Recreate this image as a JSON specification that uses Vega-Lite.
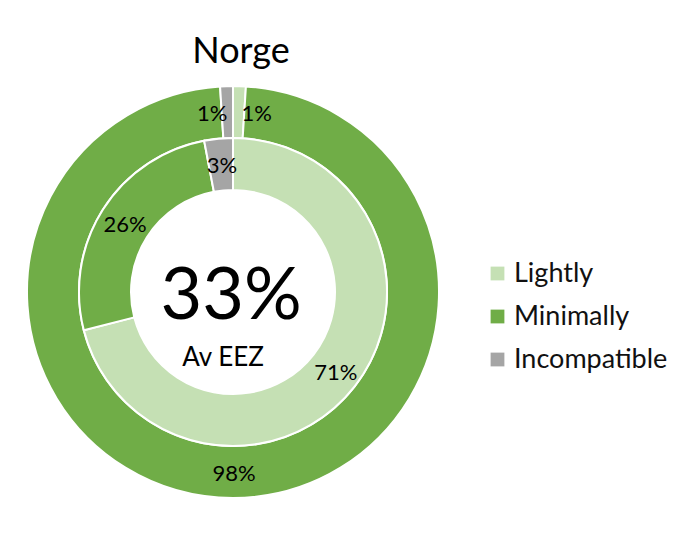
{"$schema":"https://vega.github.io/schema/vega-lite/v6.json","width":466,"height":546,"autosize":"none","padding":{"top":19,"left":0,"right":211,"bottom":0},"background":"white","config":{"view":{"stroke":null},"font":"Lato"},"title":{"text":"Norge","font":"Lato","fontSize":36,"fontWeight":"normal","color":"#000","anchor":"middle","dx":8,"offset":-52},"datasets":{"shares":[{"ring":"outer","cat":"Lightly","order":1,"value":1,"label":"1%"},{"ring":"outer","cat":"Minimally","order":2,"value":98,"label":"98%"},{"ring":"outer","cat":"Incompatible","order":3,"value":1,"label":"1%"},{"ring":"inner","cat":"Lightly","order":1,"value":71,"label":"71%"},{"ring":"inner","cat":"Minimally","order":2,"value":26,"label":"26%"},{"ring":"inner","cat":"Incompatible","order":3,"value":3,"label":"3%"}]},"layer":[{"data":{"name":"shares"},"transform":[{"filter":"datum.ring=='outer'"}],"mark":{"type":"arc","innerRadius":154,"outerRadius":206,"stroke":"white","strokeWidth":2},"encoding":{"theta":{"field":"value","type":"quantitative","stack":true,"scale":{"domain":[0,100]}},"order":{"field":"order","type":"quantitative"},"color":{"field":"cat","type":"nominal","scale":{"domain":["Lightly","Minimally","Incompatible"],"range":["#C5E0B4","#70AD47","#A5A5A5"]},"legend":{"title":null,"orient":"none","legendX":484,"legendY":241,"labelFont":"Lato","labelFontSize":27,"labelColor":"#111","symbolType":"square","symbolSize":190,"symbolStrokeWidth":0,"rowPadding":15,"labelOffset":3}}}},{"data":{"name":"shares"},"transform":[{"filter":"datum.ring=='inner'"}],"mark":{"type":"arc","innerRadius":102,"outerRadius":154,"stroke":"white","strokeWidth":2},"encoding":{"theta":{"field":"value","type":"quantitative","stack":true,"scale":{"domain":[0,100]}},"order":{"field":"order","type":"quantitative"},"color":{"field":"cat","type":"nominal"}}},{"data":{"name":"shares"},"transform":[{"filter":"datum.ring=='inner'"}],"mark":{"type":"text","radius":129,"fontSize":22,"color":"#000","dy":2,"dx":1},"encoding":{"theta":{"field":"value","type":"quantitative","stack":true,"scale":{"domain":[0,100]}},"order":{"field":"order","type":"quantitative"},"text":{"field":"label"}}},{"data":{"name":"shares"},"transform":[{"filter":"datum.ring=='outer'"}],"mark":{"type":"text","radius":181,"fontSize":22,"color":"#000","dy":1,"dx":1},"encoding":{"theta":{"field":"value","type":"quantitative","stack":true,"scale":{"domain":[0,100]}},"order":{"field":"order","type":"quantitative"},"text":{"condition":{"test":"datum.cat=='Minimally'","field":"label"},"value":""}}},{"data":{"name":"shares"},"transform":[{"filter":"datum.ring=='outer'"}],"mark":{"type":"text","radius":181,"fontSize":22,"color":"#000","dx":18,"dy":3},"encoding":{"theta":{"field":"value","type":"quantitative","stack":true,"scale":{"domain":[0,100]}},"order":{"field":"order","type":"quantitative"},"text":{"condition":{"test":"datum.cat=='Lightly'","field":"label"},"value":""}}},{"data":{"name":"shares"},"transform":[{"filter":"datum.ring=='outer'"}],"mark":{"type":"text","radius":181,"fontSize":22,"color":"#000","dx":-15,"dy":3},"encoding":{"theta":{"field":"value","type":"quantitative","stack":true,"scale":{"domain":[0,100]}},"order":{"field":"order","type":"quantitative"},"text":{"condition":{"test":"datum.cat=='Incompatible'","field":"label"},"value":""}}},{"data":{"values":[{"t":"33%"}]},"mark":{"type":"text","fontSize":72,"color":"#000","dx":-2,"dy":5},"encoding":{"text":{"field":"t"}}},{"data":{"values":[{"t":"Av EEZ"}]},"mark":{"type":"text","fontSize":26,"color":"#000","dx":-10,"dy":66},"encoding":{"text":{"field":"t"}}}]}
